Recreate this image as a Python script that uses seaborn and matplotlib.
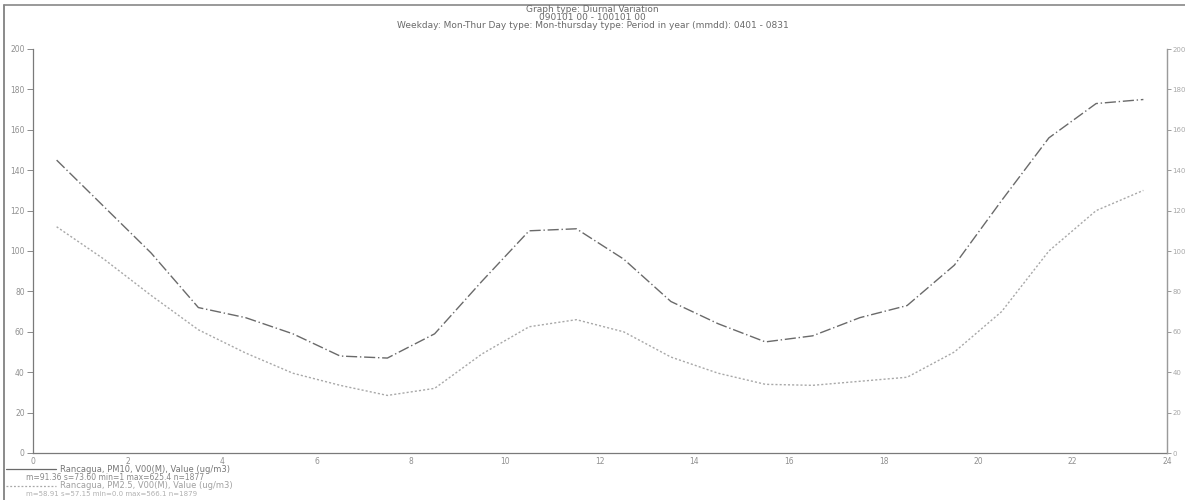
import matplotlib
matplotlib.use("Agg")
import matplotlib.pyplot as plt
from matplotlib.lines import Line2D
import seaborn as sns
import numpy as np
import pandas as pd

hours = [0.5, 1.5, 2.5, 3.5, 4.5, 5.5, 6.5, 7.5, 8.5, 9.5, 10.5, 11.5,
         12.5, 13.5, 14.5, 15.5, 16.5, 17.5, 18.5, 19.5, 20.5, 21.5, 22.5, 23.5]
pm10 = [145, 122, 99, 72, 67, 59, 48, 47, 59, 85, 110, 111,
        96, 75, 64, 55, 58, 67, 73, 93, 125, 156, 173, 175]
pm25 = [112, 96, 78, 61, 49.5, 39.5, 33.5, 28.5, 32, 49, 62.5, 66,
        60, 47.5, 39.5, 34, 33.5, 35.5, 37.5, 50, 70, 100, 120, 130]
yticks = [0, 20, 40, 60, 80, 100, 120, 140, 160, 180, 200]
xticks = [0, 2, 4, 6, 8, 10, 12, 14, 16, 18, 20, 22, 24]
title_lines = ["Graph type: Diurnal Variation",
               "090101 00 - 100101 00",
               "Weekday: Mon-Thur Day type: Mon-thursday type: Period in year (mmdd): 0401 - 0831"]
legend_labels = ["Rancagua, PM10, V00(M), Value (ug/m3)",
                 "Rancagua, PM2.5, V00(M), Value (ug/m3)"]
legend_stats = ["m=91.36 s=73.60 min=1 max=625.4 n=1877",
                "m=58.91 s=57.15 min=0.0 max=566.1 n=1879"]

sns.set_style("white")
plt.rcParams['font.family'] = ['DejaVu Sans']

df10 = pd.DataFrame({"hour": hours, "value": pm10})
df25 = pd.DataFrame({"hour": hours, "value": pm25})

fig = plt.figure(figsize=(11.85, 5.0), dpi=100)
ax = fig.add_axes([33/1185, 47/500, 1134/1185, 404/500])

sns.lineplot(data=df10, x="hour", y="value", ax=ax, color="#6a6a6a",
             linewidth=1.0, linestyle=(0, (8, 2, 1, 2)))
sns.lineplot(data=df25, x="hour", y="value", ax=ax, color="#a8a8a8",
             linewidth=1.0, linestyle=(0, (1.5, 1.5)))

ax.set_xlim(0, 24)
ax.set_ylim(0, 200)
ax.set_xticks(xticks)
ax.set_yticks(yticks)
ax.set_xlabel("")
ax.set_ylabel("")
ax.spines["top"].set_visible(False)
for s in ["left", "right", "bottom"]:
    ax.spines[s].set_color("#7a7a7a")
    ax.spines[s].set_linewidth(0.9)
ax.tick_params(axis="y", direction="out", length=4, width=0.7,
               colors="#8a8a8a", labelsize=5.5, labelcolor="#909090", pad=2)
ax.tick_params(axis="x", direction="inout", length=5, width=0.7,
               colors="#8a8a8a", labelsize=5.5, labelcolor="#909090", pad=0.5)

ax2 = ax.twinx()
ax2.set_ylim(0, 200)
ax2.set_yticks(yticks)
ax2.tick_params(axis="y", direction="out", length=3, width=0.7, colors="#9a9a9a",
                labelsize=5, labelcolor="#a8a8a8", pad=1)
for s in ["top", "left", "bottom"]:
    ax2.spines[s].set_visible(False)
ax2.spines["right"].set_color("#9a9a9a")

# Title
fig.text(0.5, 1 - 10/500, title_lines[0], ha="center", va="center", fontsize=6.5, color="#6a6a6a")
fig.text(0.5, 1 - 17.5/500, title_lines[1], ha="center", va="center", fontsize=6.5, color="#6a6a6a")
fig.text(0.5, 1 - 25/500, title_lines[2], ha="center", va="center", fontsize=6.5, color="#6a6a6a")

# Outer frame lines
fig.add_artist(Line2D([4/1185, 4/1185], [0, 1 - 5/500], transform=fig.transFigure,
                      color="#777777", linewidth=1.2))
fig.add_artist(Line2D([4/1185, 1], [1 - 5/500, 1 - 5/500], transform=fig.transFigure,
                      color="#888888", linewidth=1.2))

# Legend
fig.add_artist(Line2D([6/1185, 56/1185], [1 - 469/500, 1 - 469/500], transform=fig.transFigure,
                      color="#6a6a6a", linewidth=0.9))
fig.text(60/1185, 1 - 469/500, legend_labels[0], ha="left", va="center", fontsize=6, color="#777777")
fig.text(26/1185, 1 - 477.5/500, legend_stats[0], ha="left", va="center", fontsize=5.5, color="#888888")
fig.add_artist(Line2D([6/1185, 56/1185], [1 - 486/500, 1 - 486/500], transform=fig.transFigure,
                      color="#a8a8a8", linewidth=0.9, linestyle=(0, (1.5, 1.5))))
fig.text(60/1185, 1 - 486/500, legend_labels[1], ha="left", va="center", fontsize=6, color="#a0a0a0")
fig.text(26/1185, 1 - 494.5/500, legend_stats[1], ha="left", va="center", fontsize=5, color="#b0b0b0")

fig.savefig("out.png", dpi=100)
